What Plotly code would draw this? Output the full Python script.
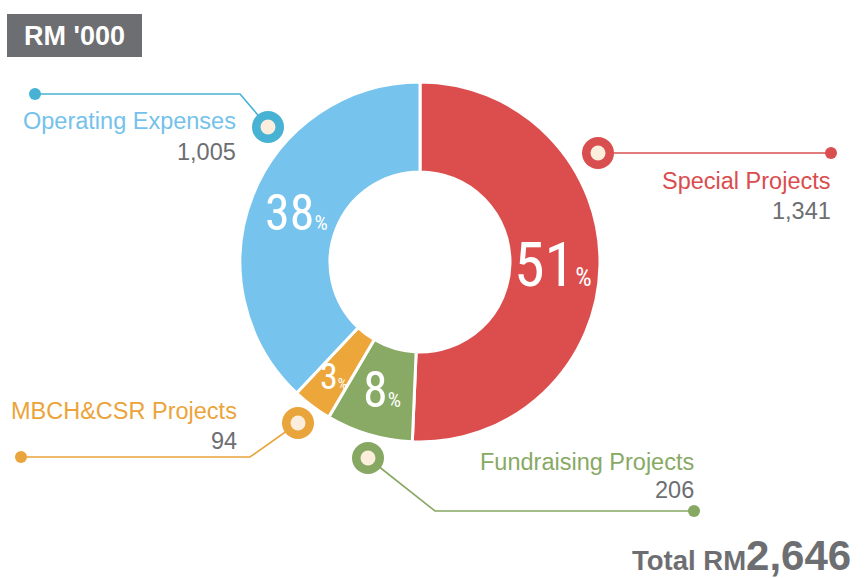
import math
import plotly.graph_objects as go

# ---- data ----
categories = ["Special Projects", "Fundraising Projects", "MBCH&CSR Projects", "Operating Expenses"]
values = [1341, 206, 94, 1005]
value_labels = ["1,341", "206", "94", "1,005"]
pct_labels = ["51", "8", "3", "38"]
total_label = "2,646"
unit_label = "RM '000"

colors = ["#DC4E4E", "#88AA64", "#ECA63A", "#76C3ED"]
ring_colors = ["#D94F4F", "#86A862", "#E9A43B", "#47B2D3"]
label_colors = ["#DA4D4F", "#88A964", "#EBA43A", "#74C2EB"]
GREY = "#6D6E71"
CREAM = "#FBEEDC"

W, H = 868, 578
CX, CY, R = 420, 262, 180

fig = go.Figure()

# donut
fig.add_trace(go.Pie(
    labels=categories, values=values, sort=False, direction="clockwise", rotation=0,
    hole=0.5, marker=dict(colors=colors, line=dict(color="white", width=3)),
    textinfo="none", hoverinfo="label+value+percent", showlegend=False,
    domain=dict(x=[(CX - R) / W, (CX + R) / W], y=[1 - (CY + R) / H, 1 - (CY - R) / H]),
))

# callout geometry (pixel layout)
callouts = [
    dict(ring=(598, 153), elbow=(598, 153), end=(831, 153), lx=833, ly=181, vy=211),
    dict(ring=(368, 458), elbow=(435, 511), end=(694, 511), lx=696, ly=462, vy=490),
    dict(ring=(298, 423), elbow=(250, 457), end=(21, 457), lx=239, ly=411, vy=441),
    dict(ring=(268, 127), elbow=(240, 94), end=(35, 94), lx=238, ly=121, vy=152),
]

for i, c in enumerate(callouts):
    xs = [c["ring"][0], c["elbow"][0], c["end"][0]]
    ys = [c["ring"][1], c["elbow"][1], c["end"][1]]
    fig.add_trace(go.Scatter(x=xs, y=ys, mode="lines", line=dict(color=ring_colors[i], width=1.6),
                             hoverinfo="skip", showlegend=False))
    fig.add_trace(go.Scatter(x=[c["end"][0]], y=[c["end"][1]], mode="markers",
                             marker=dict(size=12, color=ring_colors[i]), hoverinfo="skip", showlegend=False))
    fig.add_trace(go.Scatter(x=[c["ring"][0]], y=[c["ring"][1]], mode="markers",
                             marker=dict(size=32, color=ring_colors[i]), hoverinfo="skip", showlegend=False))
    fig.add_trace(go.Scatter(x=[c["ring"][0]], y=[c["ring"][1]], mode="markers",
                             marker=dict(size=15, color=CREAM), hoverinfo="skip", showlegend=False))

annotations = []
LBL_FONT = "Liberation Sans, Arial, sans-serif"
for i, c in enumerate(callouts):
    annotations.append(dict(x=c["lx"], y=c["ly"], xref="x", yref="y", text=categories[i],
                            showarrow=False, xanchor="right", yanchor="middle",
                            font=dict(family=LBL_FONT, size=23.5, color=label_colors[i])))
    annotations.append(dict(x=c["lx"], y=c["vy"], xref="x", yref="y", text=value_labels[i],
                            showarrow=False, xanchor="right", yanchor="middle",
                            font=dict(family=LBL_FONT, size=23.5, color=GREY)))

# percentage labels placed at slice mid-angles
total = sum(values)
pct_sizes = [62, 50, 36, 50]
radii = [0.74, 0.74, 0.80, 0.74]
cum = 0
COND = "Liberation Sans Narrow, Roboto Condensed, DejaVu Sans Condensed, Liberation Sans, sans-serif"
for i, v in enumerate(values):
    mid = (cum + v / 2) / total
    cum += v
    ang = 2 * math.pi * mid
    px = CX + R * radii[i] * math.sin(ang)
    py = CY - R * radii[i] * math.cos(ang)
    s = pct_sizes[i]
    annotations.append(dict(x=px, y=py, xref="x", yref="y", showarrow=False,
                            text=f"{pct_labels[i]}<span style='font-size:{int(s*0.42)}px'>%</span>",
                            font=dict(family=COND, size=s, color="white")))

# unit box
annotations.append(dict(x=74, y=36, xref="x", yref="y", text=f"<b>{unit_label}</b>", showarrow=False,
                        font=dict(family=LBL_FONT, size=27, color="white")))
# total
annotations.append(dict(x=853, y=555, xref="x", yref="y", showarrow=False, xanchor="right", yanchor="middle",
                        text=f"<b>Total RM<span style='font-size:42px'>{total_label}</span></b>",
                        font=dict(family=LBL_FONT, size=27.5, color=GREY)))

fig.update_layout(
    width=W, height=H, margin=dict(l=0, r=0, t=0, b=0),
    paper_bgcolor="white", plot_bgcolor="rgba(0,0,0,0)",
    xaxis=dict(range=[0, W], visible=False, fixedrange=True, domain=[0, 1]),
    yaxis=dict(range=[H, 0], visible=False, fixedrange=True, domain=[0, 1]),
    shapes=[dict(type="rect", xref="x", yref="y", x0=7, y0=14, x1=142, y1=57,
                 fillcolor=GREY, line=dict(width=0), layer="below")],
    annotations=annotations,
)

fig.write_html("out.html", config={"displayModeBar": False},
               post_script="document.body.style.margin='0px';")
